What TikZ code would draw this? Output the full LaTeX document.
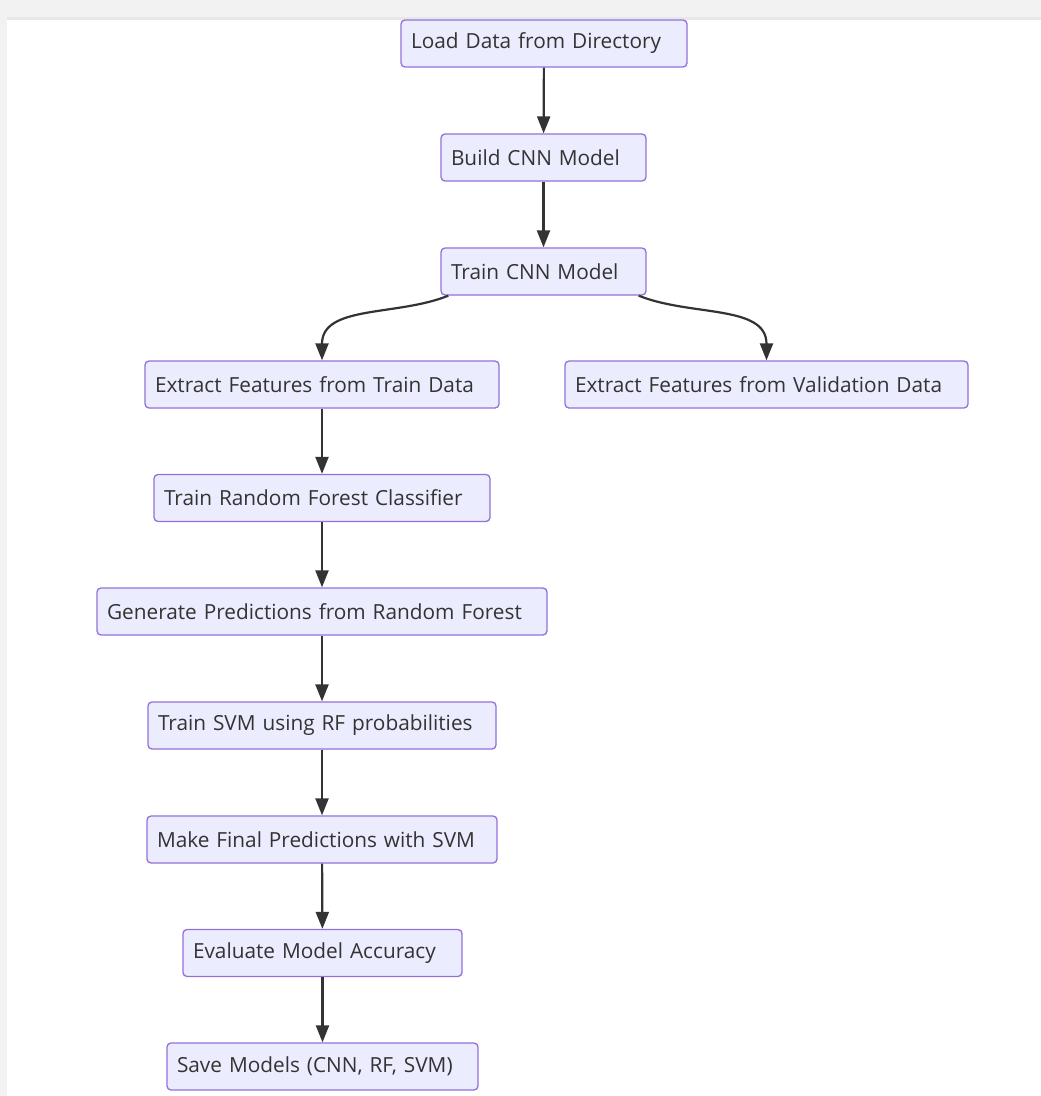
\documentclass[tikz,border=0pt]{standalone}
\usepackage{fontspec}
\setmainfont{Open Sans}
\usetikzlibrary{arrows.meta}
\usetikzlibrary{positioning}

\definecolor{boxfill}{HTML}{ECECFF}
\definecolor{boxline}{HTML}{9370DB}
\definecolor{ink}{HTML}{333333}
\definecolor{frame}{HTML}{F2F2F2}

\tikzset{
  stage/.style = {draw = boxline, fill = boxfill, line width = 1.3pt,
                  rounded corners = 4pt, minimum height = 47pt,
                  inner xsep = 10pt, inner ysep = 0pt, align = left,
                  text = ink, font = \fontsize{20.8}{24}\selectfont},
  flow/.style  = {draw = ink, line width = 2.2pt,
                  -{Triangle[length = 17pt, width = 13pt]}},
}

\begin{document}
\begin{tikzpicture}[x = 1pt, y = -1pt]
        \useasboundingbox (0, 0) rectangle (1041, 1096);
        \fill[frame] (0, 0) rectangle (1041, 1096);
        \fill[black!9] (7, 17) rectangle (1041, 20);
        \fill[white] (7, 20) rectangle (1041, 1096);

        \node[stage, text width = 266pt] (load)  at (544, 43.5)   {Load Data from Directory};
        \node[stage, text width = 185pt] (build) at (543.5, 157.5) {Build CNN Model};
        \node[stage, text width = 185pt] (tcnn)  at (543.5, 271.5) {Train CNN Model};
        \node[stage, text width = 334pt] (eftr)  at (322, 384.5)   {Extract Features from Train Data};
        \node[stage, text width = 383pt] (efval) at (766.5, 384.5) {Extract Features from Validation Data};
        \node[stage, text width = 316pt] (trf)   at (322, 498)     {Train Random Forest Classifier};
        \node[stage, text width = 430pt] (gen)   at (322, 611.5)   {Generate Predictions from Random Forest};
        \node[stage, text width = 328pt] (tsvm)  at (322, 725.5)   {Train SVM using RF probabilities};
        \node[stage, text width = 330pt] (final) at (322, 839.5)   {Make Final Predictions with SVM};
        \node[stage, text width = 259pt] (eval)  at (322.5, 953)   {Evaluate Model Accuracy};
        \node[stage, text width = 291pt] (save)  at (322.5, 1066.5) {Save Models (CNN, RF, SVM)};

        \draw[flow] (load)  -- (build);
        \draw[flow] (build) -- (tcnn);
        \draw[flow] ([xshift = 8pt]tcnn.south west) to[out = 202, in = 90] (eftr.north);
        \draw[flow] ([xshift = -8pt]tcnn.south east) to[out = -22, in = 90] (efval.north);
        \draw[flow] (eftr)  -- (trf);
        \draw[flow] (trf)   -- (gen);
        \draw[flow] (gen)   -- (tsvm);
        \draw[flow] (tsvm)  -- (final);
        \draw[flow] (final) -- (eval);
        \draw[flow] (eval)  -- (save);
      \end{tikzpicture}
\end{document}
